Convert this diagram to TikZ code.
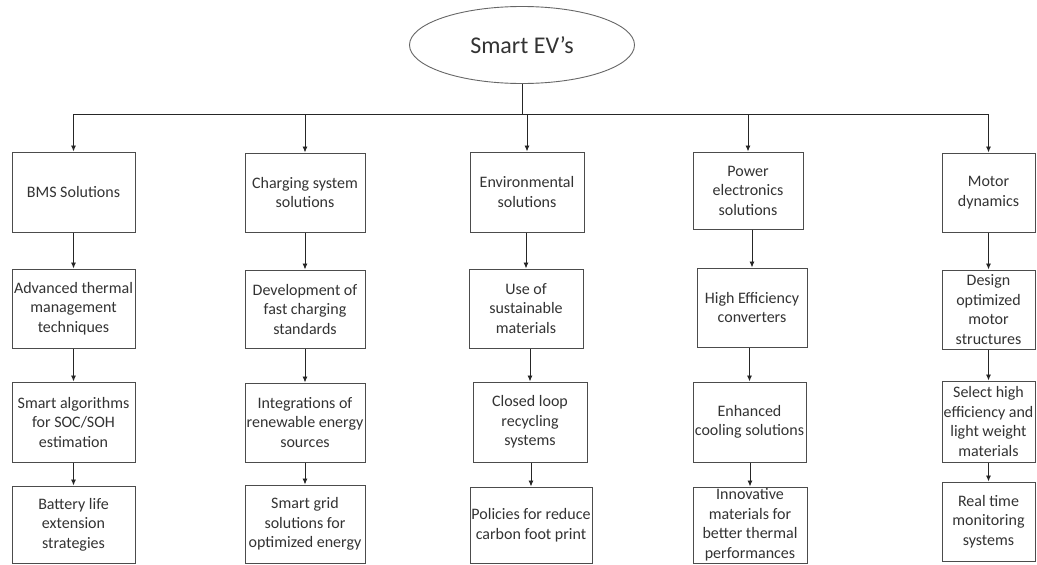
\documentclass[tikz,border=0pt]{standalone}
\usepackage{fontspec}
\setmainfont{Carlito}
\usetikzlibrary{arrows.meta,shapes.geometric}
\newcommand\mybox[6]{\node[box, minimum width=#4pt, minimum height=#5pt] (#1) at (#2,#3) {#6};}
\begin{document}
\begin{tikzpicture}[x=1pt,y=-1pt,
 box/.style={draw=black!70, line width=1pt, align=center, inner sep=0pt, font=\fontsize{16}{19.5}\selectfont, text=black!80},
 arr/.style={draw=black!85, line width=0.9pt, -{Latex[length=6pt,width=5pt]}},
 ln/.style={draw=black!85, line width=0.9pt}]
\useasboundingbox (0,0) rectangle (1037,565);
\fill[white] (0,0) rectangle (1037,565);

\node[draw=black!60, line width=0.9pt, ellipse, minimum width=225pt, minimum height=77pt, inner sep=0pt, font=\fontsize{24}{28}\selectfont, text=black!80] (root) at (522,45) {Smart EV’s};

% column 1
\mybox{a1}{73.5}{192}{123}{80}{BMS Solutions}
\mybox{a2}{73.5}{308.5}{123}{79}{Advanced thermal\\management\\techniques}
\mybox{a3}{73.5}{422}{123}{80}{Smart algorithms\\for SOC/SOH\\estimation}
\mybox{a4}{73.5}{524.5}{123}{77}{Battery life\\extension\\strategies}
% column 2
\mybox{b1}{305}{192.5}{120}{79}{Charging system\\solutions}
\mybox{b2}{305}{309}{120}{78}{Development of\\fast charging\\standards}
\mybox{b3}{305}{422.5}{120}{79}{Integrations of\\renewable energy\\sources}
\mybox{b4}{305}{524}{120}{78}{Smart grid\\solutions for\\optimized energy}
% column 3
\mybox{c1}{527}{192}{114}{80}{Environmental\\solutions}
\mybox{c2}{526}{308.5}{114}{79}{Use of\\sustainable\\materials}
\mybox{c3}{530}{422}{114}{80}{Closed loop\\recycling\\systems}
\mybox{c4}{531}{525}{122}{76}{Policies for reduce\\carbon foot print}
% column 4
\mybox{d1}{748}{190.5}{110}{77}{Power\\electronics\\solutions}
\mybox{d2}{752}{307.5}{110}{79}{High Efficiency\\converters}
\mybox{d3}{749.5}{422}{113}{80}{Enhanced\\cooling solutions}
\mybox{d4}{750}{525}{114}{76}{Innovative\\materials for\\better thermal\\performances}
% column 5
\mybox{e1}{988.5}{192.5}{93}{79}{Motor\\dynamics}
\mybox{e2}{988.5}{309.5}{93}{79}{Design\\optimized\\motor\\structures}
\mybox{e3}{988.5}{421.5}{93}{81}{Select high\\efficiency and\\light weight\\materials}
\mybox{e4}{988.5}{521.5}{93}{79}{Real time\\monitoring\\systems}

% bus
\coordinate (bus) at (522,114);
\draw[ln] (root.south) -- (bus);
\draw[ln] (bus -| a1.north) -- (bus -| e1.north);
\foreach \n in {a1,b1,c1,d1,e1}
  \draw[arr] (bus -| \n.north) -- (\n.north);

% vertical chains
\foreach \c in {a,b,c,d,e}{
  \draw[arr] (\c2.north |- \c1.south) -- (\c2.north);
  \draw[arr] (\c3.north |- \c2.south) -- (\c3.north);
  \draw[arr] (\c4.north |- \c3.south) -- (\c4.north);
}
\end{tikzpicture}
\end{document}
